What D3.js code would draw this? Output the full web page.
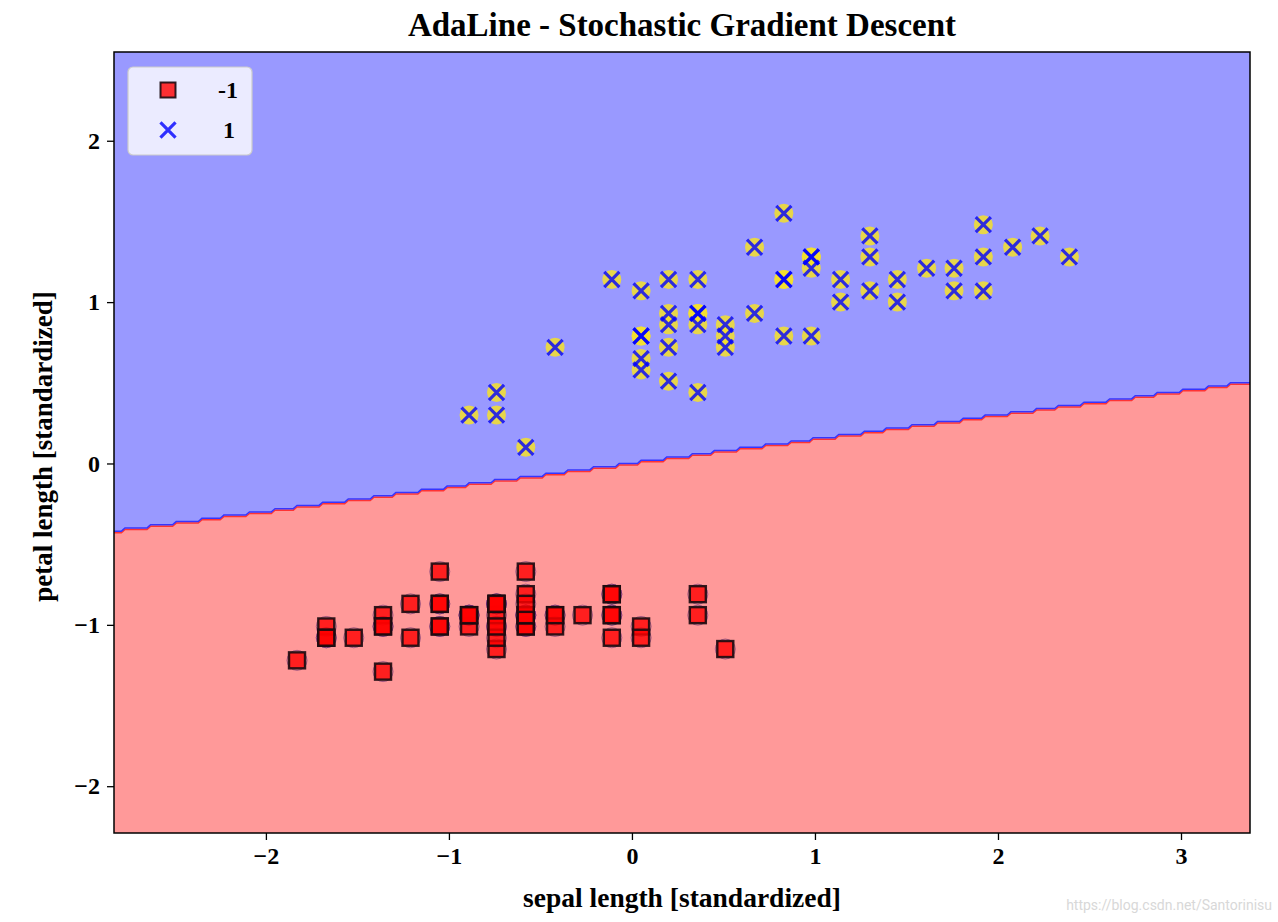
<!DOCTYPE html>
<html>
<head>
  <meta charset="utf-8">
  <title>AdaLine - Stochastic Gradient Descent</title>
  <script src="https://cdn.jsdelivr.net/npm/d3@7"></script>
  <style>
    body { margin: 0; background: #fff; }
    text { font-family: "Liberation Serif", "DejaVu Serif", serif; font-weight: bold; }
  </style>
</head>
<body>
<div id="chart"></div>
<script>
// standardized samples (iris, first 100)
// class -1 (setosa)
const negX = [-0.58,-0.89,-1.21,-1.36,-0.74,-0.11,-1.36,-0.74,-1.67,-0.89,
              -0.11,-1.05,-1.05,-1.83,0.51,0.36,-0.11,-0.58,0.36,-0.58,
              -0.11,-0.58,-1.36,-0.58,-1.05,-0.74,-0.74,-0.42,-0.42,-1.21,
              -1.05,-0.11,-0.42,0.05,-0.89,-0.74,0.05,-0.89,-1.67,-0.58,
              -0.74,-1.52,-1.67,-0.74,-0.58,-1.05,-0.58,-1.36,-0.27,-0.74];
const negY = [-1.01,-1.01,-1.08,-0.94,-1.01,-0.81,-1.01,-0.94,-1.01,-0.94,
              -0.94,-0.87,-1.01,-1.22,-1.15,-0.94,-1.08,-1.01,-0.81,-0.94,
              -0.81,-0.94,-1.29,-0.81,-0.67,-0.87,-0.87,-0.94,-1.01,-0.87,
              -0.87,-0.94,-0.94,-1.01,-0.94,-1.15,-1.08,-0.94,-1.08,-0.94,
              -1.08,-1.08,-1.08,-0.87,-0.67,-1.01,-0.87,-1.01,-0.94,-1.01];
// class 1 (versicolor)
const posX = [2.39,1.45,2.23,0.05,1.61,0.36,1.30,-0.89,1.76,-0.42,
              -0.74,0.67,0.83,0.98,0.20,1.92,0.20,0.51,1.14,0.20,
              0.67,0.98,1.30,0.98,1.45,1.76,2.08,1.92,0.83,0.36,
              0.05,0.05,0.51,0.83,-0.11,0.83,1.92,1.30,0.20,0.05,
              0.05,0.98,0.51,-0.74,0.20,0.36,0.36,1.14,-0.58,0.36];
const posY = [1.28,1.14,1.41,0.79,1.21,1.14,1.28,0.30,1.21,0.72,
              0.44,0.93,0.79,1.28,0.51,1.07,1.14,0.86,1.14,0.72,
              1.34,0.79,1.41,1.28,1.00,1.07,1.34,1.48,1.14,0.44,
              0.65,0.58,0.72,1.55,1.14,1.14,1.28,1.07,0.86,0.79,
              1.07,1.21,0.79,0.30,0.93,0.93,0.93,1.00,0.10,0.86];

// decision function w0 + w1*x + w2*y (boundary)
const weights = [-0.003, -0.149, 1.0];
const xTicks = [-2, -1, 0, 1, 2, 3];
const yTicks = [-2, -1, 0, 1, 2];
const classLabels = ["-1", "1"];

const W = 1278, H = 922;
const margin = {top: 52, right: 28, bottom: 89, left: 114};
const width = W - margin.left - margin.right,
      height = H - margin.top - margin.bottom;

const svg = d3.select("#chart").append("svg")
  .attr("width", W).attr("height", H);

const g = svg.append("g")
  .attr("transform", `translate(${margin.left},${margin.top})`);

const xMin = -2.83, xMax = 3.377, yMin = -2.29, yMax = 2.55;
const x = d3.scaleLinear().domain([xMin, xMax]).range([0, width]);
const y = d3.scaleLinear().domain([yMin, yMax]).range([height, 0]);

g.append("clipPath").attr("id", "clip")
  .append("rect").attr("width", width).attr("height", height);

const plot = g.append("g").attr("clip-path", "url(#clip)");

// red background = class -1 region
plot.append("rect")
  .attr("width", width).attr("height", height)
  .attr("fill", "#ff9999");

// prediction grid, resolution 0.02
const res = 0.02;
const gx0 = xMin - 3 * res, gy0 = yMin - 3 * res;
const nx = Math.ceil((xMax - xMin) / res) + 7;
const ny = Math.ceil((yMax - yMin) / res) + 7;
const grid = new Array(nx * ny);
for (let j = 0; j < ny; j++) {
  for (let i = 0; i < nx; i++) {
    const px = gx0 + i * res, py = gy0 + j * res;
    grid[j * nx + i] = (weights[0] + weights[1] * px + weights[2] * py) >= 0 ? 1 : 0;
  }
}
const contour = d3.contours().size([nx, ny]).thresholds([0.5])(grid)[0];
const proj = d3.geoTransform({
  point: function(a, b) {
    this.stream.point(x(gx0 + (a - 0.5) * res), y(gy0 + (b - 0.5) * res));
  }
});
const path = d3.geoPath(proj);

plot.append("path")
  .datum(contour)
  .attr("d", path)
  .attr("fill", "none")
  .attr("stroke", "#ff3333")
  .attr("stroke-width", 1.5)
  .attr("transform", "translate(0,1.5)");

plot.append("path")
  .datum(contour)
  .attr("d", path)
  .attr("fill", "#9999ff")
  .attr("stroke", "#3535ff")
  .attr("stroke-width", 1.5);

// samples
const neg = negX.map((v, i) => ({x: v, y: negY[i]}));
const pos = posX.map((v, i) => ({x: v, y: posY[i]}));

plot.selectAll(".ring").data(neg).enter().append("circle")
  .attr("cx", d => x(d.x)).attr("cy", d => y(d.y)).attr("r", 10)
  .attr("fill", "none").attr("stroke", "#4a1a6a").attr("stroke-opacity", 0.5);

plot.selectAll(".sq").data(neg).enter().append("rect")
  .attr("x", d => x(d.x) - 8).attr("y", d => y(d.y) - 8)
  .attr("width", 16).attr("height", 16)
  .attr("fill", "#ff0000").attr("fill-opacity", 0.8)
  .attr("stroke", "#1a0a10").attr("stroke-width", 2.4).attr("stroke-opacity", 0.9);

plot.selectAll(".hl").data(pos).enter().append("circle")
  .attr("cx", d => x(d.x)).attr("cy", d => y(d.y)).attr("r", 9.5)
  .attr("fill", "#f5e02a").attr("fill-opacity", 0.85);

const cross = d3.symbol().type(d3.symbolX).size(150);
plot.selectAll(".xm").data(pos).enter().append("path")
  .attr("transform", d => `translate(${x(d.x)},${y(d.y)})`)
  .attr("d", cross)
  .attr("fill", "none")
  .attr("stroke", "#0000ff").attr("stroke-opacity", 0.8)
  .attr("stroke-width", 3.2);

// axes
const fmt = d => d3.format("d")(d).replace("-", "\u2212");
const xAxis = g.append("g")
  .attr("transform", `translate(0,${height})`)
  .call(d3.axisBottom(x).tickValues(xTicks).tickSize(7).tickPadding(7).tickFormat(fmt));
const yAxis = g.append("g")
  .call(d3.axisLeft(y).tickValues(yTicks).tickSize(7).tickPadding(7).tickFormat(fmt));
[xAxis, yAxis].forEach(a => {
  a.select(".domain").remove();
  a.selectAll(".tick line").attr("stroke", "#000").attr("stroke-width", 1.3);
  a.selectAll(".tick text")
    .attr("font-family", "Liberation Serif, serif")
    .attr("font-weight", "bold")
    .attr("font-size", 24)
    .attr("fill", "#000");
});
xAxis.selectAll(".tick text").attr("dy", "0.72em");

g.append("rect")
  .attr("width", width).attr("height", height)
  .attr("fill", "none").attr("stroke", "#000").attr("stroke-width", 1.5);

// legend
const legend = g.append("g").attr("transform", "translate(14,15)");
legend.append("rect")
  .attr("width", 124).attr("height", 88).attr("rx", 5)
  .attr("fill", "#ffffff").attr("fill-opacity", 0.8)
  .attr("stroke", "#cccccc").attr("stroke-width", 1.2);
legend.append("rect")
  .attr("x", 32.5).attr("y", 15.5).attr("width", 15).attr("height", 15)
  .attr("fill", "#ff0000").attr("fill-opacity", 0.8)
  .attr("stroke", "#1a0a10").attr("stroke-width", 2).attr("stroke-opacity", 0.9);
legend.append("path")
  .attr("transform", "translate(40,63)")
  .attr("d", cross)
  .attr("fill", "none")
  .attr("stroke", "#0000ff").attr("stroke-opacity", 0.8)
  .attr("stroke-width", 3.2);
legend.selectAll(".lbl").data(classLabels).enter().append("text")
  .attr("x", (d, i) => i === 0 ? 90 : 95).attr("y", (d, i) => 23 + i * 40)
  .attr("dy", "0.35em")
  .attr("font-size", 24)
  .text(d => d);

// labels
svg.append("text")
  .attr("x", margin.left + width / 2).attr("y", 36)
  .attr("text-anchor", "middle").attr("font-size", 33)
  .text("AdaLine - Stochastic Gradient Descent");
svg.append("text")
  .attr("x", margin.left + width / 2).attr("y", 907)
  .attr("text-anchor", "middle").attr("font-size", 27.5)
  .text("sepal length [standardized]");
svg.append("text")
  .attr("transform", `translate(52,${margin.top + height / 2 + 4}) rotate(-90)`)
  .attr("text-anchor", "middle").attr("font-size", 27)
  .text("petal length [standardized]");

svg.append("text")
  .attr("x", 1272).attr("y", 910)
  .attr("text-anchor", "end")
  .style("font-family", "Roboto, sans-serif").style("font-weight", "normal")
  .attr("font-size", 14).attr("fill", "#d8d8d8")
  .text("https://blog.csdn.net/Santorinisu");
</script>
</body>
</html>
